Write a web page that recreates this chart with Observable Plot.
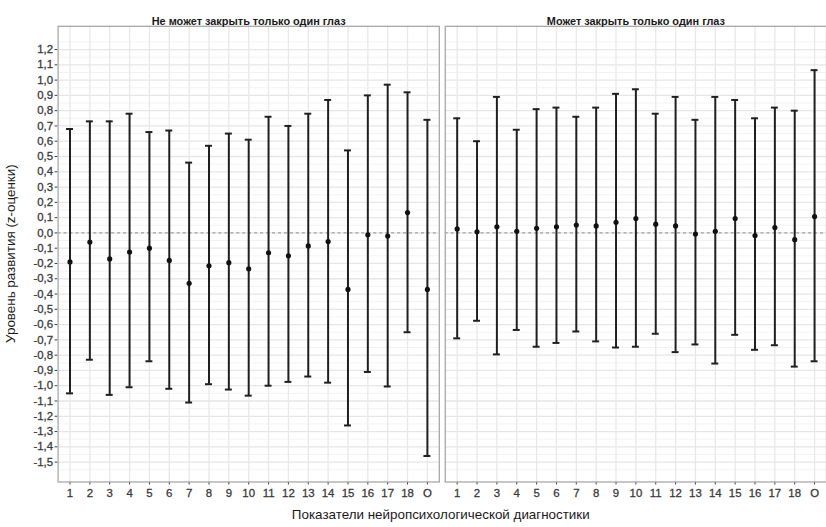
<!DOCTYPE html>
<html>
<head>
<meta charset="utf-8">
<script src="https://cdn.jsdelivr.net/npm/d3@7"></script>
<script src="https://cdn.jsdelivr.net/npm/@observablehq/plot@0.6"></script>
<style>
  html, body { margin: 0; padding: 0; background: #fff; overflow: hidden; }
  #chart { width: 826px; height: 527px; overflow: hidden; }
  #chart g[aria-label="x-axis tick label"] text,
  #chart g[aria-label="y-axis tick label"] text { stroke: #3a3a3a; stroke-width: 0.3px; }
</style>
</head>
<body>
<div id="chart"></div>
<script>
const categories = ["1","2","3","4","5","6","7","8","9","10","11","12","13","14","15","16","17","18","O"];
const groups = ["Не может закрыть только один глаз", "Может закрыть только один глаз"];

const meanA = [-0.19, -0.06, -0.17, -0.125, -0.10, -0.18, -0.33, -0.215, -0.195, -0.235, -0.13, -0.15, -0.085, -0.057, -0.37, -0.012, -0.02, 0.133, -0.37];
const highA = [0.68, 0.73, 0.73, 0.78, 0.66, 0.67, 0.46, 0.57, 0.65, 0.61, 0.76, 0.70, 0.78, 0.87, 0.54, 0.90, 0.97, 0.92, 0.74];
const lowA  = [-1.05, -0.83, -1.06, -1.01, -0.84, -1.02, -1.11, -0.99, -1.025, -1.065, -1.0, -0.975, -0.94, -0.98, -1.26, -0.91, -1.005, -0.65, -1.46];

const meanB = [0.026, 0.007, 0.04, 0.011, 0.03, 0.04, 0.052, 0.046, 0.07, 0.094, 0.057, 0.046, -0.007, 0.011, 0.094, -0.017, 0.035, -0.044, 0.107];
const highB = [0.75, 0.60, 0.89, 0.675, 0.81, 0.82, 0.76, 0.82, 0.91, 0.94, 0.78, 0.89, 0.74, 0.89, 0.87, 0.75, 0.82, 0.80, 1.065];
const lowB  = [-0.69, -0.575, -0.795, -0.635, -0.745, -0.72, -0.645, -0.71, -0.75, -0.745, -0.66, -0.78, -0.73, -0.855, -0.667, -0.765, -0.735, -0.875, -0.84];

const yTicks = d3.range(-15, 13).map(i => i / 10);
const yMinor = d3.range(-16, 14).map(i => (i + 0.5) / 10);

const xTitle = "Показатели нейропсихологической диагностики";
const yTitle = "Уровень развития (z-оценки)";

const rows = [];
categories.forEach((c, i) => {
  rows.push({group: groups[0], cat: c, mean: meanA[i], lo: lowA[i], hi: highA[i]});
  rows.push({group: groups[1], cat: c, mean: meanB[i], lo: lowB[i], hi: highB[i]});
});

const W = 832, H = 527, ML = 57, MT = 26, MB = 42;

const chart = Plot.plot({
  width: W,
  height: H,
  marginLeft: ML,
  marginRight: 0,
  marginTop: MT,
  marginBottom: MB,
  style: {fontFamily: "'Liberation Sans', Arial, sans-serif", fontSize: "11.5px", color: "#3a3a3a", background: "#fff"},
  fx: {domain: groups, axis: null, paddingInner: 0.0154, paddingOuter: 0},
  x: {domain: categories, type: "band", paddingInner: 0.7, paddingOuter: 0.45, tickSize: 3, tickPadding: 4, label: null},
  y: {domain: [-1.63, 1.352], ticks: yTicks, tickFormat: d => d.toFixed(1).replace(".", ","), tickSize: 3, tickPadding: 2, label: null},
  marks: [
    Plot.gridY(yMinor, {stroke: "#f3f3f3", strokeOpacity: 1, strokeWidth: 1}),
    Plot.gridY(yTicks, {stroke: "#e6e6e6", strokeOpacity: 1, strokeWidth: 1.3}),
    Plot.gridX(categories, {stroke: "#e8e8e8", strokeOpacity: 1, strokeWidth: 1.3}),
    Plot.ruleY([0], {stroke: "#a0a0a0", strokeWidth: 1.4, strokeDasharray: "3,3"}),
    Plot.ruleX(rows, {fx: "group", x: "cat", y1: "lo", y2: "hi", stroke: "#1f1f1f", strokeWidth: 2}),
    Plot.tickY(rows, {fx: "group", x: "cat", y: "hi", stroke: "#1f1f1f", strokeWidth: 2, insetLeft: -0.5, insetRight: -0.5}),
    Plot.tickY(rows, {fx: "group", x: "cat", y: "lo", stroke: "#1f1f1f", strokeWidth: 2, insetLeft: -0.5, insetRight: -0.5}),
    Plot.dot(rows, {fx: "group", x: "cat", y: "mean", r: 2.6, fill: "#111", stroke: "none"}),
    Plot.frame({stroke: "#a8a8a8", strokeWidth: 1.3}),
    Plot.text(groups, {fx: d => d, text: d => d, frameAnchor: "top", dy: -9, fontWeight: "bold", fontSize: 11, fill: "#1a1a1a"})
  ]
});

const svg = d3.select(chart.tagName.toLowerCase() === "svg" ? chart : chart.querySelector("svg"));
svg.append("text")
  .attr("x", 444).attr("y", 519)
  .attr("text-anchor", "middle").attr("dominant-baseline", "middle")
  .attr("font-size", 13.5).attr("fill", "#1a1a1a")
  .text(xTitle);
svg.append("text")
  .attr("transform", `translate(12, ${(MT + H - MB) / 2}) rotate(-90)`)
  .attr("text-anchor", "middle").attr("dominant-baseline", "middle")
  .attr("font-size", 13.5).attr("fill", "#1a1a1a")
  .text(yTitle);

document.getElementById("chart").appendChild(chart);
</script>
</body>
</html>
